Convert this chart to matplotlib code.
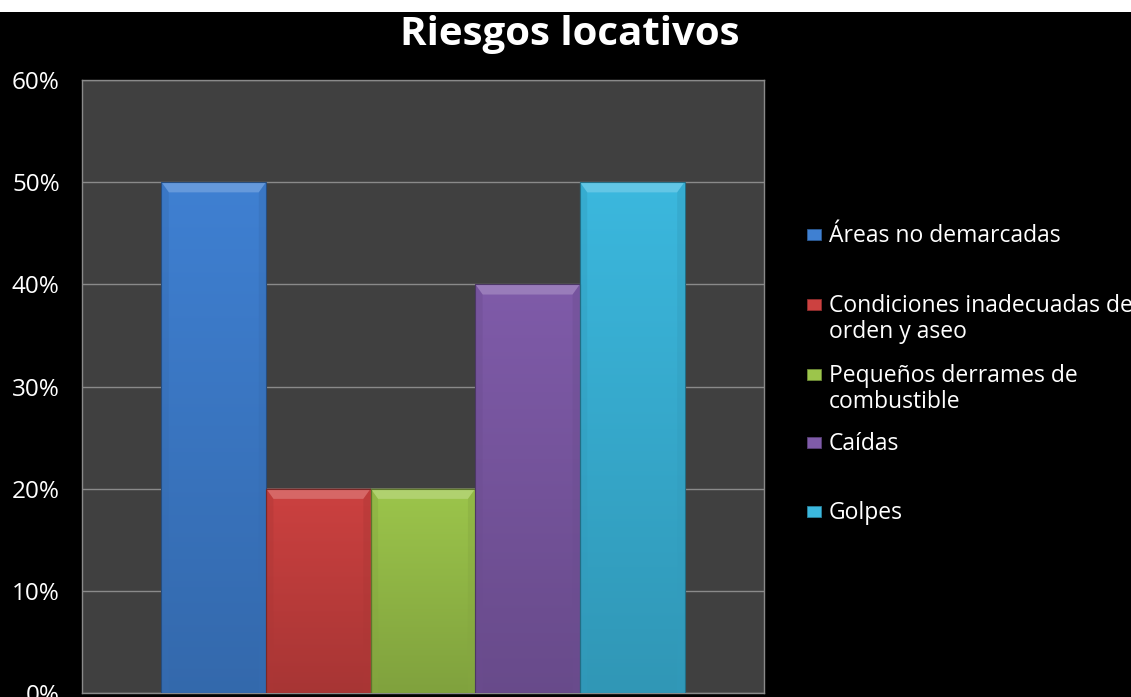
import matplotlib
matplotlib.use('Agg')
import matplotlib.pyplot as plt
import numpy as np
from matplotlib.patches import Rectangle, Polygon
from matplotlib.colors import to_rgb

plt.rcParams['font.family'] = ['Open Sans', 'DejaVu Sans']

categories = ['Áreas no demarcadas', 'Condiciones inadecuadas de\norden y aseo',
              'Pequeños derrames de\ncombustible', 'Caídas', 'Golpes']
values = [0.50, 0.20, 0.20, 0.40, 0.50]
colors = ['#3f80d2', '#cc4140', '#9cc54b', '#7f5ba9', '#3bb8de']
title = 'Riesgos locativos'
yticks = [0, 0.1, 0.2, 0.3, 0.4, 0.5, 0.6]
ytick_labels = ['0%', '10%', '20%', '30%', '40%', '50%', '60%']


def shade(c, f):
    r, g, b = to_rgb(c)
    if f >= 1:
        return tuple(min(1, v + (1 - v) * (f - 1)) for v in (r, g, b))
    return tuple(v * f for v in (r, g, b))


fig = plt.figure(figsize=(11.31, 6.97), dpi=100)
fig.patch.set_facecolor('black')
fig.patches.append(Rectangle((0, 1 - 12 / 697), 1, 12 / 697, transform=fig.transFigure,
                             facecolor='white', edgecolor='none', zorder=0))

ax = fig.add_axes([82 / 1131, 4 / 697, 682 / 1131, 613 / 697])
ax.set_facecolor('#404040')

x = np.arange(len(values))
bars = ax.bar(x, values, width=1.0, color=colors, edgecolor='none', zorder=3)

# vertical gradient + bevel on each bar
grad = np.linspace(0, 1, 256).reshape(-1, 1)
for b, c in zip(bars, colors):
    x0, w, h = b.get_x(), b.get_width(), b.get_height()
    cmap = matplotlib.colors.LinearSegmentedColormap.from_list(
        'g', [shade(c, 0.82), shade(c, 1.0)])
    im = ax.imshow(grad, extent=(x0, x0 + w, 0, h), origin='lower', cmap=cmap,
                   aspect='auto', zorder=4)
    im.set_clip_path(b)
    bw, bh = 0.07, 0.010
    ax.add_patch(Polygon([(x0, h), (x0 + w, h), (x0 + w - bw, h - bh), (x0 + bw, h - bh)],
                         closed=True, facecolor=shade(c, 1.2), edgecolor='none', zorder=5))
    ax.add_patch(Polygon([(x0, h), (x0 + bw, h - bh), (x0 + bw, 0), (x0, 0)],
                         closed=True, facecolor=shade(c, 0.85), edgecolor='none', zorder=5, alpha=0.4))
    ax.add_patch(Polygon([(x0 + w, h), (x0 + w - bw, h - bh), (x0 + w - bw, 0), (x0 + w, 0)],
                         closed=True, facecolor=shade(c, 0.85), edgecolor='none', zorder=5, alpha=0.4))
    ax.add_patch(Rectangle((x0, 0), w, h, facecolor='none', edgecolor=shade(c, 0.6),
                           linewidth=0.8, zorder=6))

ax.set_xlim(-0.5 - 0.76, len(values) - 0.5 + 0.76)
ax.set_ylim(0, 0.6)
ax.set_yticks(yticks)
ax.set_yticklabels(ytick_labels)
ax.set_xticks([])
ax.tick_params(axis='y', length=0, pad=16, labelcolor='white', labelsize=17.5)
ax.grid(axis='y', color='#8a8a8a', linewidth=1.0, zorder=1)
ax.set_axisbelow(True)
for s in ax.spines.values():
    s.set_color('#8a8a8a')
    s.set_linewidth(1.0)

fig.text(570 / 1131, 1 - 34 / 697, title, color='white', fontsize=29, fontweight='bold',
         ha='center', va='center')

# legend entries drawn to the right of the plot area
legend_y = [236, 319, 389, 444, 513]
for lab, c, yy in zip(categories, colors, legend_y):
    fy = 1 - yy / 697
    first_line = fy + (13.5 / 697 if '\n' in lab else 0)
    fig.patches.append(Rectangle((807 / 1131, first_line - 4 / 697), 14 / 1131, 11 / 697,
                                 transform=fig.transFigure, facecolor=c,
                                 edgecolor=shade(c, 0.7), linewidth=0.6))
    fig.text(829 / 1131, fy, lab, color='white', fontsize=16.5, ha='left', va='center',
             linespacing=1.15)

fig.savefig('out.png', dpi=100, facecolor=fig.get_facecolor())
